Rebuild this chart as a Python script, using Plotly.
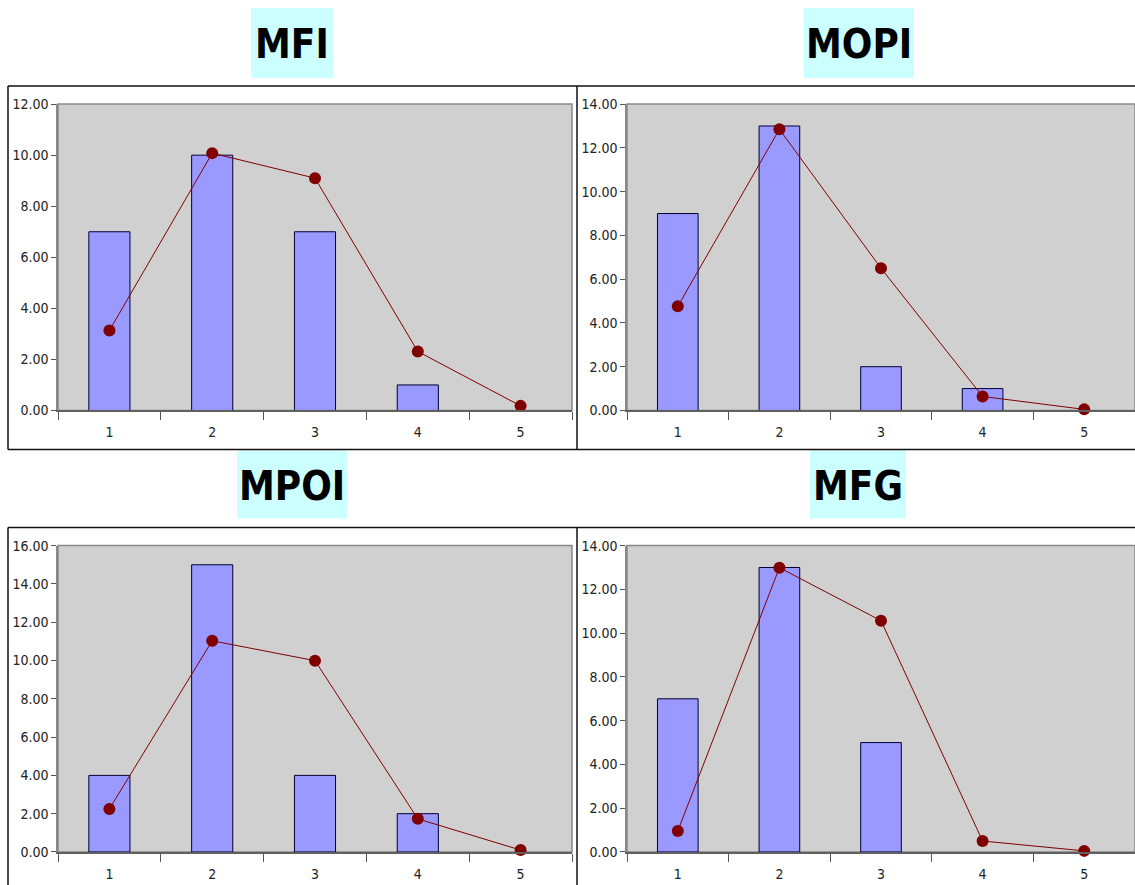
import plotly.graph_objects as go

categories = ["1", "2", "3", "4", "5"]
titles = ["MFI", "MOPI", "MPOI", "MFG"]
bars_mfi = [7, 10, 7, 1, 0]
line_mfi = [3.13, 10.08, 9.1, 2.31, 0.18]
bars_mopi = [9, 13, 2, 1, 0]
line_mopi = [4.76, 12.85, 6.5, 0.64, 0.05]
bars_mpoi = [4, 15, 4, 2, 0]
line_mpoi = [2.25, 11.03, 9.99, 1.73, 0.1]
bars_mfg = [7, 13, 5, 0, 0]
line_mfg = [0.96, 12.99, 10.57, 0.5, 0.05]
y_max = [12, 14, 16, 14]

W = 1135
TOP, HH = 8, 868   # vertical band the page occupies in the photograph

def px(x):
    return x / W

def py(y):
    return 1 - (y - TOP) / HH

panels = [
    (bars_mfi, line_mfi, (58, 572), (104, 410), (292, 44), (251, 333, 8, 78)),
    (bars_mopi, line_mopi, (627, 1135), (104, 410), (859, 44), (804, 914, 8, 78)),
    (bars_mpoi, line_mpoi, (58, 572), (545, 851), (292, 485), (237, 347, 450, 518)),
    (bars_mfg, line_mfg, (627, 1135), (545, 851), (858, 485), (810, 906, 450, 518)),
]

fig = go.Figure()
shapes = []
annotations = []
tick_font = dict(family="DejaVu Sans Condensed, DejaVu Sans", size=14, color="#222222")

for i, (bars, line, xr, yr, tpos, tbox) in enumerate(panels):
    n = "" if i == 0 else str(i + 1)
    xa, ya = "x" + n, "y" + n
    fig.add_trace(go.Bar(
        x=categories, y=bars, xaxis=xa, yaxis=ya, width=0.4,
        marker=dict(color="#9999ff",
                    line=dict(color="#000033", width=[1 if v > 0 else 0 for v in bars])),
        showlegend=False, hoverinfo="y"))
    fig.add_trace(go.Scatter(
        x=categories, y=line, xaxis=xa, yaxis=ya, mode="lines+markers",
        line=dict(color="#800000", width=1),
        marker=dict(color="#800000", size=12),
        showlegend=False, cliponaxis=False))
    fig.layout["xaxis" + n] = dict(
        domain=[px(xr[0]), px(xr[1])], anchor=ya, type="category",
        tickson="boundaries", ticks="outside", ticklen=8, tickcolor="#555555",
        ticklabelstandoff=8,
        tickfont=tick_font, showgrid=False, showline=True, linecolor="#606060",
        linewidth=2, mirror=False, zeroline=False, fixedrange=True)
    fig.layout["yaxis" + n] = dict(
        domain=[py(yr[1]), py(yr[0])], anchor=xa, range=[0, y_max[i]],
        dtick=2, tickformat=".2f", ticks="outside", ticklen=5,
        tickcolor="#555555", tickfont=tick_font, showgrid=False,
        showline=True, linecolor="#888888", linewidth=1.5, zeroline=False,
        fixedrange=True)
    shapes.append(dict(type="rect", xref="paper", yref="paper",
                       x0=px(xr[0]), x1=px(xr[1]), y0=py(yr[1]), y1=py(yr[0]),
                       fillcolor="#d0d0d0", line=dict(color="#888888", width=1.5),
                       layer="below"))
    shapes.append(dict(type="rect", xref="paper", yref="paper",
                       x0=px(tbox[0]), x1=px(tbox[1]), y0=py(tbox[3]), y1=py(tbox[2]),
                       fillcolor="#ccffff", line=dict(width=0), layer="below"))
    annotations.append(dict(text=titles[i], xref="paper", yref="paper",
                            x=px(tpos[0]), y=py(tpos[1]), showarrow=False,
                            xanchor="center", yanchor="middle",
                            font=dict(family="DejaVu Sans Condensed, DejaVu Sans",
                                      size=40, color="#000000", weight="bold")))

for yline in (86, 449, 527):
    shapes.append(dict(type="line", xref="paper", yref="paper",
                       x0=px(8), x1=1, y0=py(yline), y1=py(yline),
                       line=dict(color="#111111", width=1.5)))
for xline in (8, 577):
    for (ya0, ya1) in ((86, 449), (527, 885)):
        shapes.append(dict(type="line", xref="paper", yref="paper",
                           x0=px(xline), x1=px(xline), y0=py(ya0), y1=py(ya1),
                           line=dict(color="#111111", width=1.5)))

fig.update_layout(
    autosize=True, margin=dict(l=0, r=0, t=0, b=0),
    paper_bgcolor="white", plot_bgcolor="rgba(0,0,0,0)",
    shapes=shapes, annotations=annotations, bargap=0.6)

fig.write_html(
    "out.html",
    default_width="100vw", default_height="100vh",
    config={"displayModeBar": False, "responsive": True},
    post_script="document.body.style.margin='0';document.body.style.overflow='hidden';"
                "document.documentElement.style.overflow='hidden';"
                "window.dispatchEvent(new Event('resize'));")
